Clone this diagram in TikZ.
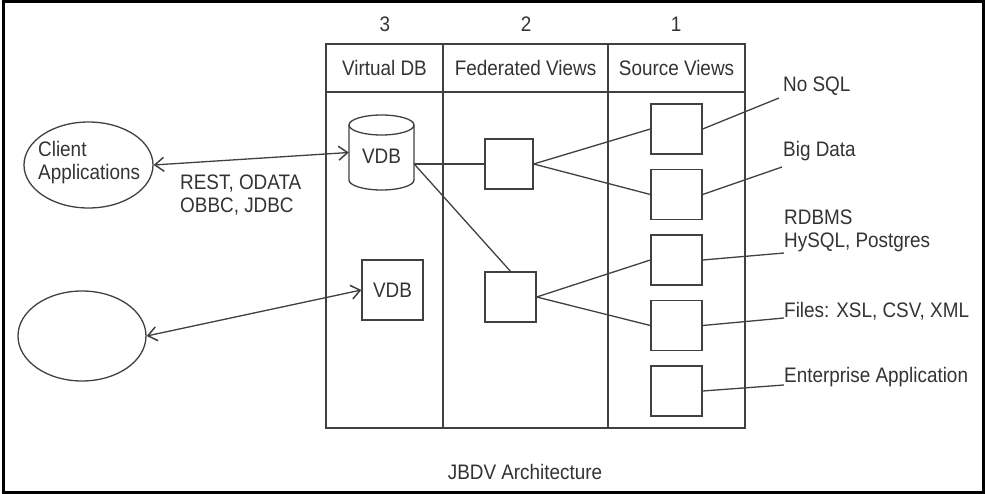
\documentclass[tikz,border=0pt]{standalone}
\usepackage{fontspec}
\setmainfont{Liberation Sans}[FakeStretch=0.9]
\usetikzlibrary{arrows.meta,shapes.geometric}
\definecolor{ln}{HTML}{404040}
\definecolor{tx}{HTML}{333333}
\begin{document}
\begin{tikzpicture}[x=1pt,y=-1pt,
  lbl/.style={inner sep=0pt, text=tx, font=\fontsize{21}{23.5}\selectfont},
  conn/.style={draw=ln, line width=1.3pt},
  box/.style={conn, rectangle, minimum width=51pt, minimum height=50pt, inner sep=0pt, text=tx, font=\fontsize{21}{23.5}\selectfont},
  oval/.style={conn, ellipse, inner sep=0pt},
  biarrow/.style={conn, {Straight Barb[length=9pt,width=14pt,line width=1.5pt]}-{Straight Barb[length=9pt,width=14pt,line width=1.5pt]}}]
\useasboundingbox (0,0) rectangle (985,494);
\draw[line width=3pt] (3,1.5) rectangle (983.5,492.5);

% table
\draw[conn] (326,44) rectangle (745,428);
\draw[conn] (326,92) -- (745,92);
\draw[conn] (443,44) -- (443,428);
\draw[conn] (608,44) -- (608,428);

% column numbers and headers
\node[lbl, anchor=base] (n3) at (385,32) {3};
\node[lbl, anchor=base] (n2) at (526,32) {2};
\node[lbl, anchor=base] (n1) at (676,32) {1};
\node[lbl, anchor=base] (h3) at (384.5,76) {Virtual DB};
\node[lbl, anchor=base] (h2) at (525.5,76) {Federated Views};
\node[lbl, anchor=base] (h1) at (676.5,76) {Source Views};

% cylinder VDB
\node[minimum width=65pt, minimum height=75pt, inner sep=0pt] (vdb1) at (381.5,152.5) {};
\draw[conn] (349,125) -- (349,180) arc[start angle=180, end angle=360, x radius=32.5pt, y radius=10pt] -- (414,125);
\draw[conn] (381.5,125) ellipse[x radius=32.5pt, y radius=10pt];
\node[lbl, anchor=base] (vdb1t) at (381.5,164) {VDB};

% VDB box
\node[box, minimum width=61pt, minimum height=60pt] (vdb2) at (392.5,290) {VDB};

% client ellipses
\node[oval, minimum width=129pt, minimum height=86pt] (client) at (88.5,165) {};
\node[lbl, anchor=base west, align=left] (clientt) at (38,180) {Client\\Applications};
\node[oval, minimum width=128pt, minimum height=90pt] (client2) at (82,336) {};

\draw[biarrow] (client.east) -- (vdb1.west);
\draw[biarrow] (client2.east) -- (vdb2.west);
\node[lbl, anchor=base west, align=left] (proto) at (180,213) {REST, ODATA\\OBBC, JDBC};

% federated views
\node[box, minimum width=48pt] (fed1) at (509,164) {};
\node[box] (fed2) at (510.5,297) {};
\draw[conn] (vdb1.east |- fed1.west) -- (fed1.west);
\draw[conn] (vdb1.east |- fed1.west) -- (fed2.north);

% source views
\node[box] (s1) at (676.5,129) {};
\node[box] (s2) at (676.5,194.5) {};
\node[box] (s3) at (676.5,260) {};
\node[box] (s4) at (676.5,325.5) {};
\node[box] (s5) at (676.5,391) {};
\draw[conn] (fed1.east) -- (s1.west);
\draw[conn] (fed1.east) -- (s2.west);
\draw[conn] (fed2.east) -- (s3.west);
\draw[conn] (fed2.east) -- (s4.west);

% source labels
\coordinate (e1) at (779,98);
\coordinate (e2) at (782,167);
\coordinate (e3) at (784,253);
\coordinate (e4) at (784,318);
\coordinate (e5) at (784,385);
\draw[conn] (s1.east) -- (e1);
\draw[conn] (s2.east) -- (e2);
\draw[conn] (s3.east) -- (e3);
\draw[conn] (s4.east) -- (e4);
\draw[conn] (s5.east) -- (e5);
\node[lbl, anchor=base west] (l1) at (783,92) {No SQL};
\node[lbl, anchor=base west] (l2) at (783,157) {Big Data};
\node[lbl, anchor=base west, align=left] (l3) at (784,248) {RDBMS\\HySQL, Postgres};
\node[lbl, anchor=base west] (l4) at (784,317) {Files: XSL, CSV, XML};
\node[lbl, anchor=base west] (l5) at (784,382) {Enterprise Application};

% caption
\node[lbl, anchor=base] (cap) at (525,479) {JBDV Architecture};
\end{tikzpicture}
\end{document}
